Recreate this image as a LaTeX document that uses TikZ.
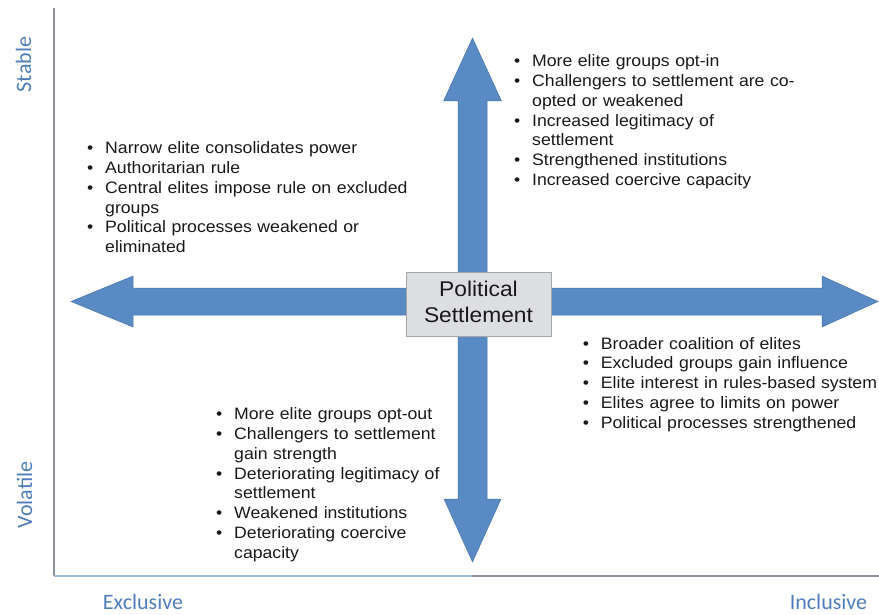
\documentclass[tikz,border=0pt]{standalone}
\usepackage{fontspec}
\setmainfont{Liberation Sans}[FakeStretch=1.07]
\newfontfamily\axisfont{Carlito}

\definecolor{arrowblue}{RGB}{89,138,196}
\definecolor{arrowedge}{RGB}{72,118,172}
\definecolor{axisblue}{RGB}{79,125,185}
\definecolor{axisgray}{RGB}{140,145,155}
\definecolor{axislight}{RGB}{160,188,222}
\definecolor{boxfill}{RGB}{221,222,225}
\definecolor{boxedge}{RGB}{165,166,172}
\definecolor{textdark}{RGB}{25,25,25}

% bullet item with a hanging indent; \newline keeps the indent on wrapped lines
\newlength{\bulind}\setlength{\bulind}{18pt}
\newcommand{\bul}{\par\noindent\hangindent=\bulind\hangafter=1\rule{0pt}{14pt}\makebox[\bulind][l]{\textbullet}\ignorespaces}

\tikzset{
  bulletlist/.style={anchor=north west, inner sep=0pt, text width=360pt,
    text=textdark, font=\fontsize{16.5}{19.85}\selectfont},
  axislabel/.style={inner sep=0pt, anchor=base, text=axisblue,
    font=\axisfont\fontsize{22}{26}\selectfont},
  bigarrow/.style={fill=arrowblue, draw=arrowedge, line width=0.5pt, line join=miter},
  centerbox/.style={draw=boxedge, fill=boxfill, line width=0.8pt,
    minimum width=145pt, minimum height=64pt, inner sep=0pt, align=center,
    text=textdark, font=\fontsize{21.3}{26}\selectfont}
}

\begin{document}
\begin{tikzpicture}[x=1pt,y=-1pt]
\useasboundingbox (0,0) rectangle (879,615);

% axes
\coordinate (origin) at (54,576);
\coordinate (ytop) at (54,8);
\coordinate (xmid) at (472,576);
\coordinate (xend) at (879,576);
\draw[axisgray, line width=1.5pt] (ytop) -- (origin);
\draw[axislight, line width=1.5pt] (origin) -- (xmid);
\draw[axisgray, line width=1.5pt] (xmid) -- (xend);

% axis labels
\node[axislabel, rotate=90] (stable) at (31,64.5) {Stable};
\node[axislabel, rotate=90] (volatile) at (32,495) {Volatile};
\node[axislabel] (exclusive) at (143,609.5) {Exclusive};
\node[axislabel] (inclusive) at (828.5,609.5) {Inclusive};

% double-headed horizontal arrow
\draw[bigarrow] (71,301.5) -- (133,276) -- (133,288) -- (822,288) -- (822,276)
  -- (878,301.5) -- (822,327) -- (822,315) -- (133,315) -- (133,327) -- cycle;
% double-headed vertical arrow
\draw[bigarrow] (472.5,38) -- (501.5,101) -- (487,101) -- (487,499) -- (501,499)
  -- (472.5,562) -- (444,499) -- (458,499) -- (458,101) -- (443.5,101) -- cycle;

% centre label
\node[centerbox] (settlement) at (478.5,304)
  {Political\\Settlement\rule[-4pt]{0pt}{0pt}};

% quadrant lists
\node[bulletlist] (topleft) at (87,133.5) {%
\bul Narrow elite consolidates power
\bul Authoritarian rule
\bul Central elites impose rule on excluded\newline groups
\bul Political processes weakened or\newline eliminated\par};

\node[bulletlist] (topright) at (514,46.5) {%
\bul More elite groups opt-in
\bul Challengers to settlement are co-\newline opted or weakened
\bul Increased legitimacy of\newline settlement
\bul Strengthened institutions
\bul Increased coercive capacity\par};

\node[bulletlist] (bottomright) at (582.7,329) {%
\bul Broader coalition of elites
\bul Excluded groups gain influence
\bul Elite interest in rules-based system
\bul Elites agree to limits on power
\bul Political processes strengthened\par};

\node[bulletlist] (bottomleft) at (216,399.5) {%
\bul More elite groups opt-out
\bul Challengers to settlement\newline gain strength
\bul Deteriorating legitimacy of\newline settlement
\bul Weakened institutions
\bul Deteriorating coercive\newline capacity\par};
\end{tikzpicture}
\end{document}
